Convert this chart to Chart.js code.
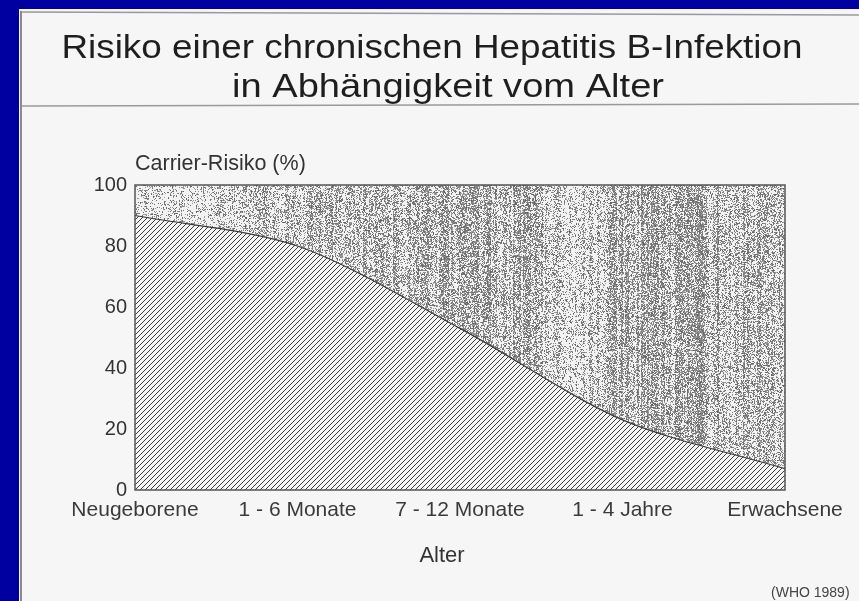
<!DOCTYPE html>
<html>
<head>
<meta charset="utf-8">
<script src="https://cdn.jsdelivr.net/npm/chart.js@4.4.1/dist/chart.umd.min.js"></script>
<style>
    html, body { margin: 0; padding: 0; background: #0000a0; }
    #wrap { position: absolute; left: 0; top: 0; width: 859px; height: 601px; }
</style>
</head>
<body>
<div id="wrap"><canvas id="riskChart" width="859" height="601"></canvas></div>
<script>
// Data
const ageGroups = ['Neugeborene', '1 - 6 Monate', '7 - 12 Monate', '1 - 4 Jahre', 'Erwachsene'];
const carrierRisk = [90, 80, 53, 23, 7];
const yTicks = [0, 20, 40, 60, 80, 100];

// Texts
const titleLines = ['Risiko einer chronischen Hepatitis B-Infektion', 'in Abhängigkeit vom Alter'];
const yAxisTitle = 'Carrier-Risiko (%)';
const xAxisTitle = 'Alter';
const sourceNote = '(WHO 1989)';

const PAPER = '#f6f6f6';
const FONT = '"Liberation Sans", Arial, sans-serif';

// Diagonal hatch below the curve
function makeHatch(ctx) {
    const s = 5;
    const c = document.createElement('canvas');
    c.width = s; c.height = s;
    const g = c.getContext('2d');
    g.fillStyle = PAPER;
    g.fillRect(0, 0, s, s);
    g.strokeStyle = '#3c3c3c';
    g.lineWidth = 1;
    g.beginPath();
    g.moveTo(-1, s + 1); g.lineTo(s + 1, -1);
    g.moveTo(-1, 1); g.lineTo(1, -1);
    g.moveTo(s - 1, s + 1); g.lineTo(s + 1, s - 1);
    g.stroke();
    return ctx.createPattern(c, 'repeat');
}

// Grey stippled background (deterministic texture)
function hash(x, y) {
    const v = Math.sin(x * 127.1 + y * 311.7) * 43758.5453;
    return v - Math.floor(v);
}
const densityStops = [[0, 0.22], [0.12, 0.3], [0.2, 0.45], [0.35, 0.5], [0.5, 0.58], [0.62, 0.52],
    [0.68, 0.32], [0.74, 0.55], [0.9, 0.62], [0.97, 0.45], [1, 0.4]];
function density(t) {
    for (let i = 1; i < densityStops.length; i++) {
        const [t1, d1] = densityStops[i];
        const [t0, d0] = densityStops[i - 1];
        if (t <= t1) return d0 + (d1 - d0) * (t - t0) / (t1 - t0);
    }
    return 0.4;
}
let stippleCache = null;
function makeStipple(w, h) {
    const c = document.createElement('canvas');
    c.width = w; c.height = h;
    const g = c.getContext('2d');
    const img = g.createImageData(w, h);
    for (let x = 0; x < w; x++) {
        const d = density(x / w);
        const colF = 0.45 + 0.9 * hash(Math.floor(x / 2), 7);
        for (let y = 0; y < h; y++) {
            const p = d * colF * (0.75 + 0.5 * hash(x, Math.floor(y / 4)));
            const i = (y * w + x) * 4;
            let v = 242;
            if (hash(x, y) < p) v = 95 + 70 * hash(y, x);
            img.data[i] = img.data[i + 1] = img.data[i + 2] = v;
            img.data[i + 3] = 255;
        }
    }
    g.putImageData(img, 0, 0);
    return c;
}

const slidePlugin = {
    id: 'slide',
    beforeDraw(chart) {
        const ctx = chart.ctx;
        ctx.save();
        ctx.fillStyle = '#0000a0';
        ctx.fillRect(0, 0, chart.width, chart.height);
        ctx.fillStyle = PAPER;
        ctx.fillRect(19, 9, chart.width - 19, chart.height - 9);
        // scan edge on the left
        ctx.fillStyle = '#8a8a8a';
        ctx.fillRect(20, 11, 2, chart.height - 11);
        // rules above and below the title
        ctx.strokeStyle = '#9a9a9a';
        ctx.lineWidth = 1.5;
        ctx.beginPath();
        ctx.moveTo(22, 12); ctx.lineTo(chart.width, 15);
        ctx.moveTo(22, 106); ctx.lineTo(chart.width, 104);
        ctx.stroke();
        ctx.restore();
    },
    beforeDatasetsDraw(chart) {
        const a = chart.chartArea;
        const w = Math.round(a.right - a.left), h = Math.round(a.bottom - a.top);
        if (!stippleCache || stippleCache.width !== w || stippleCache.height !== h) stippleCache = makeStipple(w, h);
        chart.ctx.drawImage(stippleCache, a.left, a.top);
    },
    afterDatasetsDraw(chart) {
        const a = chart.chartArea;
        const ctx = chart.ctx;
        ctx.save();
        ctx.strokeStyle = '#555';
        ctx.lineWidth = 1.5;
        ctx.strokeRect(a.left, a.top, a.right - a.left, a.bottom - a.top);
        ctx.restore();
    },
    afterDraw(chart) {
        const ctx = chart.ctx;
        ctx.save();
        ctx.fillStyle = '#1e1e1e';
        ctx.textBaseline = 'alphabetic';
        ctx.textAlign = 'center';
        // title lines, stretched to the width of the original lettering
        const titlePos = [[432, 58, 741], [448, 97, 432]];
        ctx.font = '34px ' + FONT;
        titleLines.forEach((t, i) => {
            const [cx, by, tw] = titlePos[i];
            const sx = tw / ctx.measureText(t).width;
            ctx.save();
            ctx.translate(cx, by);
            ctx.scale(sx, 1);
            ctx.fillText(t, 0, 0);
            ctx.restore();
        });
        ctx.fillStyle = '#333';
        ctx.font = '21.5px ' + FONT;
        ctx.textAlign = 'left';
        ctx.fillText(yAxisTitle, chart.chartArea.left, 170);
        ctx.textAlign = 'center';
        ctx.font = '22px ' + FONT;
        ctx.fillText(xAxisTitle, 442, 562);
        ctx.fillStyle = '#444';
        ctx.font = '14px ' + FONT;
        ctx.textAlign = 'left';
        ctx.fillText(sourceNote, 771, 597);
        ctx.restore();
    }
};

const ctx = document.getElementById('riskChart').getContext('2d');
new Chart(ctx, {
    type: 'line',
    data: {
        labels: ageGroups,
        datasets: [{
            data: carrierRisk,
            borderColor: '#3a3a3a',
            borderWidth: 1.2,
            backgroundColor: makeHatch(ctx),
            fill: 'origin',
            pointRadius: 0,
            tension: 0.3
        }]
    },
    options: {
        responsive: false,
        animation: false,
        events: [],
        layout: { padding: { left: 20, top: 185, right: 74, bottom: 0 } },
        plugins: { legend: { display: false }, tooltip: { enabled: false }, title: { display: false } },
        scales: {
            x: {
                offset: false,
                grid: { display: false, drawTicks: false },
                border: { display: false },
                ticks: { font: { family: FONT, size: 21 }, color: '#3a3a3a', padding: 8, maxRotation: 0, autoSkip: false },
                afterFit: s => { s.height = 111; }
            },
            y: {
                min: 0,
                max: 100,
                grid: { display: false, drawTicks: false },
                border: { display: false },
                afterBuildTicks: s => { s.ticks = yTicks.map(v => ({ value: v })); },
                ticks: { font: { family: FONT, size: 20 }, color: '#333', padding: 8 },
                afterFit: s => { s.width = 115; }
            }
        }
    },
    plugins: [slidePlugin]
});
</script>
</body>
</html>
